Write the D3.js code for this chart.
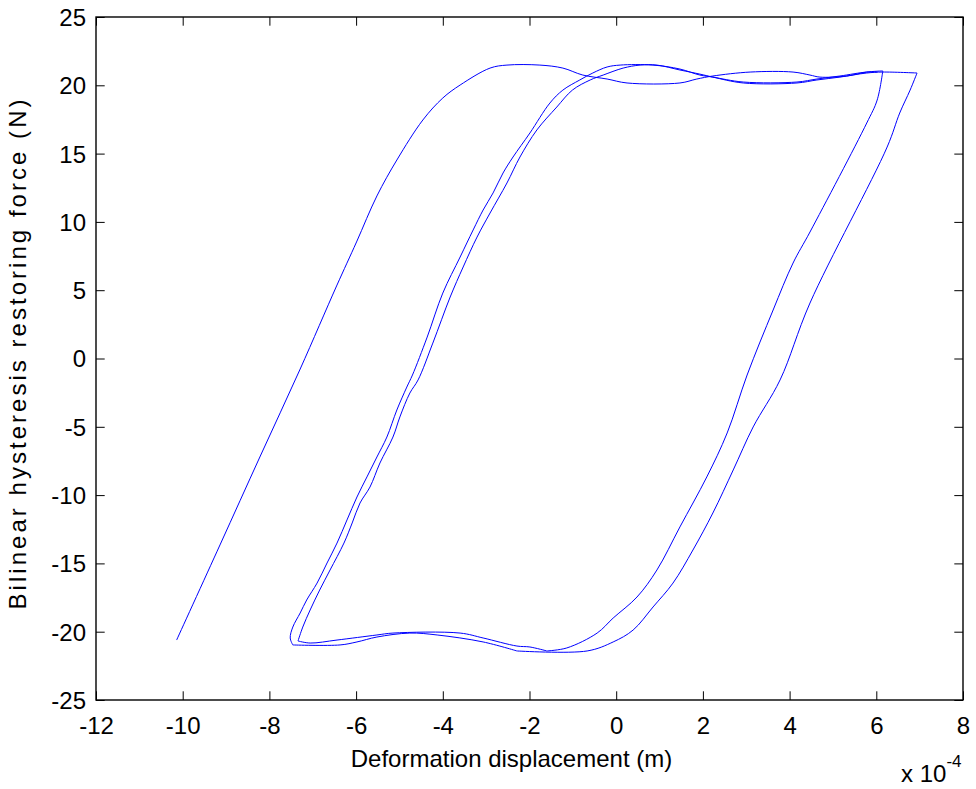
<!DOCTYPE html>
<html>
<head>
<meta charset="utf-8">
<script src="https://cdn.jsdelivr.net/npm/d3@7/dist/d3.min.js"></script>
<style>
body { margin: 0; background: #fff; }
svg text { font-family: "Liberation Sans", Arial, sans-serif; fill: #000; }
</style>
</head>
<body>
<div id="hysteresis-chart"></div>
<script>
//Tick values of both axes (x is in units of 1e-4 m)
var xTicks = [-12, -10, -8, -6, -4, -2, 0, 2, 4, 6, 8];
var yTicks = [-25, -20, -15, -10, -5, 0, 5, 10, 15, 20, 25];

//Branches of the loop: [displacement (x1e-4 m), force (N)]
var loadA = [[-10.14,-20.61],[-9.14,-13.65],[-8.22,-7.21],[-7.29,-0.77],[-6.45,5.31],[-5.99,8.53],[-5.52,11.90],[-5.06,14.53],[-4.46,17.46],[-4.00,19.07],[-3.60,20.02],[-2.91,21.26],[-2.52,21.48],[-1.76,21.48],[-1.23,21.26],[-0.77,20.75],[-0.21,20.46],[0.25,20.17],[1.47,20.17],[1.86,20.46],[2.23,20.68],[3.09,20.97],[4.08,20.97],[4.47,20.75],[4.70,20.60],[5.32,20.68],[5.78,20.97],[6.15,21.05]];
var unloadInner = [[6.02,18.92],[5.78,17.24],[4.47,9.26],[4.08,6.99],[3.62,3.55],[3.02,-1.21],[2.56,-5.45],[2.09,-8.67],[1.47,-12.33],[0.94,-15.48],[0.48,-17.46],[-0.07,-19.00],[-0.44,-20.10],[-1.14,-21.19],[-1.60,-21.41]];
var bottomInner = [[-1.99,-21.12],[-2.29,-21.05],[-3.07,-20.46],[-3.60,-20.10],[-5.15,-20.10],[-5.52,-20.24],[-6.44,-20.61],[-7.06,-20.83],[-7.34,-20.68]];
var reloadC = [[-7.23,-19.66],[-7.06,-18.41],[-6.84,-16.95],[-6.60,-15.48],[-6.28,-13.51],[-6.09,-12.04],[-5.91,-10.58],[-5.68,-9.41],[-5.45,-7.65],[-5.15,-5.75],[-4.99,-4.28],[-4.76,-2.53],[-4.57,-1.57],[-4.23,1.13],[-3.83,4.50],[-3.53,6.70],[-3.21,8.89],[-2.91,10.65],[-2.52,12.85],[-2.22,14.75],[-1.83,16.73],[-1.37,18.41],[-1.01,19.65],[-0.60,20.39],[-0.30,20.75],[0.16,21.26],[0.55,21.48],[0.94,21.48],[1.47,21.12],[1.93,20.82],[2.23,20.60],[2.93,20.17],[4.17,20.17],[4.63,20.39],[5.16,20.60],[5.78,20.90],[6.15,20.97],[6.94,20.90]];
var unloadOuter = [[6.78,19.65],[6.54,17.97],[6.25,15.48],[4.47,4.06],[3.78,-1.57],[3.16,-5.01],[2.70,-8.16],[2.23,-11.31],[1.77,-14.02],[1.31,-16.44],[0.85,-18.19],[0.39,-19.88],[-0.07,-20.75],[-0.67,-21.41],[-2.29,-21.41]];
var bottomOuter = [[-3.07,-20.75],[-4.13,-20.24],[-4.76,-20.10],[-5.52,-20.39],[-5.98,-20.75],[-6.37,-20.97],[-7.46,-20.97]];
var reloadB = [[-7.52,-20.46],[-7.46,-19.66],[-7.29,-18.63],[-7.14,-17.68],[-6.90,-16.44],[-6.67,-14.97],[-6.44,-13.51],[-6.21,-11.82],[-5.98,-10.14],[-5.75,-8.67],[-5.52,-7.21],[-5.29,-5.75],[-5.06,-3.77],[-4.83,-2.09],[-4.70,-1.21],[-4.36,1.57],[-4.00,4.79],[-3.60,7.43],[-3.30,9.41],[-3.07,10.87],[-2.84,12.12],[-2.61,13.58],[-2.38,14.75],[-1.99,16.51],[-1.53,18.70],[-1.23,19.65],[-0.84,20.39],[-0.54,20.90],[-0.21,21.34],[0.09,21.48],[0.85,21.48],[1.47,21.19],[1.93,20.75],[2.23,20.60],[2.93,20.24],[4.17,20.24],[4.63,20.46],[5.16,20.68],[5.78,20.97],[6.02,20.97]];

//Branches in the order they were traced
var branches = [loadA, unloadInner, bottomInner, reloadC, unloadOuter, bottomOuter, reloadB];

//Margins so the box lands where the MATLAB axes are
var margin = {top: 17, right: 13, bottom: 89, left: 96},
	width = 976 - margin.left - margin.right,
	height = 789 - margin.top - margin.bottom;

var tickLen = 8.7;
var fontSize = "24px";

var svg = d3.select("#hysteresis-chart")
	.append("svg")
	.attr("width", 976)
	.attr("height", 789)
	.style("background", "#fff");

var g = svg.append("g")
	.attr("transform", "translate(" + margin.left + "," + margin.top + ")");

//Scales
var x = d3.scaleLinear()
	.domain([-12, 8])
	.range([0, width]);

var y = d3.scaleLinear()
	.domain([-25, 25])
	.range([height, 0]);

//Plain hyphen minus like MATLAB
function plainFormat(d){ return String(d); }

//Bottom axis, ticks point inwards
g.append("g")
	.attr("class", "xAxis")
	.attr("transform", "translate(0," + height + ")")
	.call(d3.axisBottom(x).tickValues(xTicks).tickSize(-tickLen).tickPadding(17).tickSizeOuter(0).tickFormat(plainFormat));

//Top axis, no labels
g.append("g")
	.attr("class", "xAxisTop")
	.call(d3.axisTop(x).tickValues(xTicks).tickSize(-tickLen).tickFormat("").tickSizeOuter(0));

//Left axis
g.append("g")
	.attr("class", "yAxis")
	.call(d3.axisLeft(y).tickValues(yTicks).tickSize(-tickLen).tickPadding(10).tickSizeOuter(0).tickFormat(plainFormat));

//Right axis, no labels
g.append("g")
	.attr("class", "yAxisRight")
	.attr("transform", "translate(" + width + ",0)")
	.call(d3.axisRight(y).tickValues(yTicks).tickSize(-tickLen).tickFormat("").tickSizeOuter(0));

g.selectAll(".domain").remove();
g.selectAll(".tick line")
	.attr("stroke", "#000")
	.attr("stroke-width", 1);

g.selectAll(".xAxis text, .yAxis text")
	.style("font-size", fontSize)
	.attr("fill", "#000");

g.selectAll(".xAxis text").attr("dy", "0.71em");
g.selectAll(".yAxis text").attr("dy", "0.35em");

//The frame
g.append("rect")
	.attr("x", 0)
	.attr("y", 0)
	.attr("width", width)
	.attr("height", height)
	.attr("fill", "none")
	.attr("stroke", "#000")
	.attr("stroke-width", 1.4);

//Each branch is smoothed on its own so the turning points stay sharp
var line = d3.line()
	.curve(d3.curveCatmullRom.alpha(0.5))
	.x(function(d){ return x(d[0]) })
	.y(function(d){ return y(d[1]) });

for(var i = 0; i < branches.length; i++)
{
	//Start each branch at the last point of the one before it
	var pts = i > 0 ? [branches[i - 1][branches[i - 1].length - 1]].concat(branches[i]) : branches[i];
	g.append("path")
		.datum(pts)
		.attr("class", "loopLine")
		.attr("fill", "none")
		.attr("stroke", "#0000ff")
		.attr("stroke-width", 1)
		.attr("stroke-linejoin", "miter")
		.attr("d", line);
}

//Axis titles
g.append("text")
	.attr("x", width / 2 - 18)
	.attr("y", height + 67)
	.style("text-anchor", "middle")
	.style("font-size", fontSize)
	.text("Deformation displacement (m)");

g.append("text")
	.attr("transform", "rotate(-90)")
	.attr("x", -height / 2 + 4)
	.attr("y", -70)
	.style("text-anchor", "middle")
	.style("font-size", fontSize)
	.attr("textLength", 510)
	.attr("lengthAdjust", "spacing")
	.text("Bilinear hysteresis restoring force (N)");

//Exponent label under the right end of the x axis
var expLabel = g.append("text")
	.attr("x", width - 62)
	.attr("y", height + 82)
	.style("font-size", fontSize)
	.text("x 10");

expLabel.append("tspan")
	.attr("dy", -15)
	.style("font-size", "17px")
	.text("-4");
</script>
</body>
</html>
